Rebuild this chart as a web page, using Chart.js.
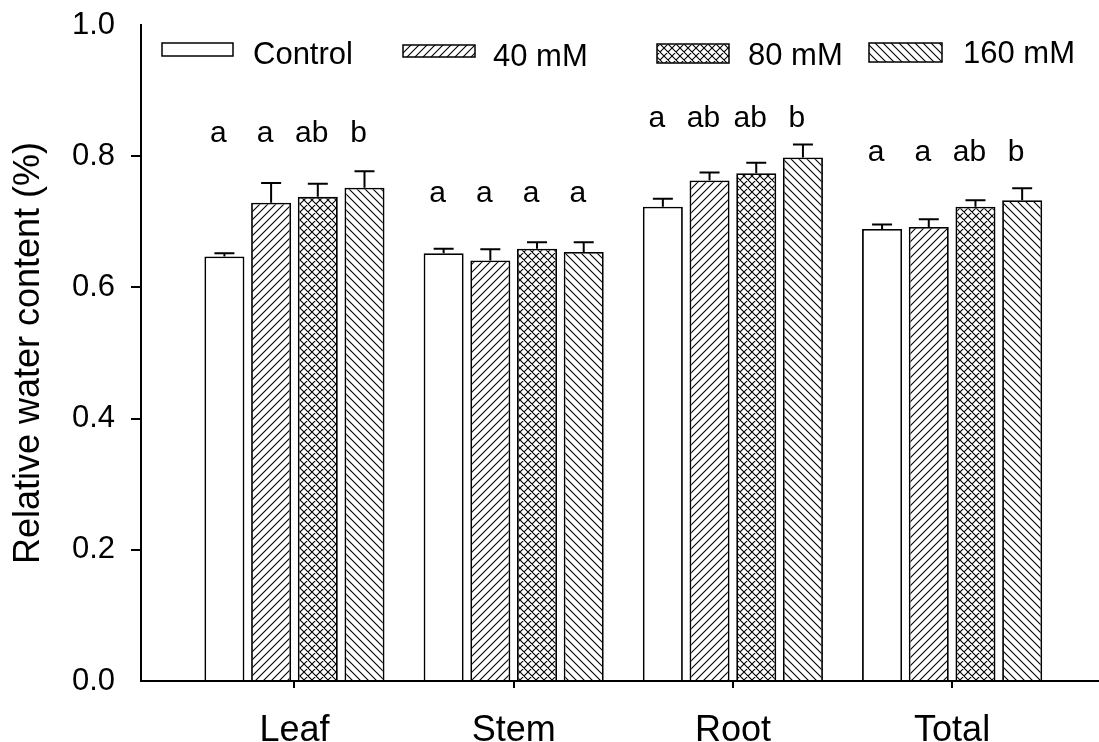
<!DOCTYPE html>
<html>
<head>
<meta charset="utf-8">
<script src="https://cdn.jsdelivr.net/npm/chart.js@4.4.0/dist/chart.umd.min.js"></script>
<style>
    body { margin: 0; background: #fff; }
</style>
</head>
<body>
<canvas id="chart" width="1099" height="742"></canvas>
<script>
const categories = ['Leaf', 'Stem', 'Root', 'Total']
const treatments = ['Control', '40 mM', '80 mM', '160 mM']

// mean relative water content per organ
const control_rwc = [0.647, 0.652, 0.723, 0.689]
const mm40_rwc = [0.729, 0.641, 0.763, 0.692]
const mm80_rwc = [0.738, 0.659, 0.774, 0.723]
const mm160_rwc = [0.752, 0.654, 0.798, 0.733]

// standard error (upper bar only)
const control_se = [0.005, 0.007, 0.012, 0.007]
const mm40_se = [0.030, 0.017, 0.012, 0.012]
const mm80_se = [0.020, 0.010, 0.016, 0.010]
const mm160_se = [0.025, 0.015, 0.020, 0.018]

// significance letters and the level they sit at
const control_letters = ['a', 'a', 'a', 'a']
const mm40_letters = ['a', 'a', 'ab', 'a']
const mm80_letters = ['ab', 'a', 'ab', 'ab']
const mm160_letters = ['b', 'a', 'b', 'b']
const letter_level = [0.822, 0.730, 0.845, 0.792]

const y_ticks = [0, 0.2, 0.4, 0.6, 0.8, 1.0]

const FONT = "'Liberation Sans', Arial, Helvetica, sans-serif"
Chart.defaults.font.family = FONT
Chart.defaults.color = '#000'

function make_pattern(kind) {
    const size = 8
    const c = document.createElement('canvas')
    c.width = size
    c.height = size
    const p = c.getContext('2d')
    p.fillStyle = '#fff'
    p.fillRect(0, 0, size, size)
    if (kind == 'none') return p.createPattern(c, 'repeat')
    p.strokeStyle = '#000'
    p.lineWidth = 1.1
    p.beginPath()
    if (kind == 'fwd' || kind == 'cross') {
        p.moveTo(-1, size + 1); p.lineTo(size + 1, -1)
        p.moveTo(-1, 1); p.lineTo(1, -1)
        p.moveTo(size - 1, size + 1); p.lineTo(size + 1, size - 1)
    }
    if (kind == 'back' || kind == 'cross') {
        p.moveTo(-1, -1); p.lineTo(size + 1, size + 1)
        p.moveTo(size - 1, -1); p.lineTo(size + 1, 1)
        p.moveTo(-1, size - 1); p.lineTo(1, size + 1)
    }
    p.stroke()
    return p.createPattern(c, 'repeat')
}

const canvas = document.getElementById('chart')

function make_dataset(label, values, errs, letters, kind) {
    return {
        label: label,
        data: values.map((v, i) => ({x: i + 1, y: v})),
        err: errs,
        letters: letters,
        backgroundColor: make_pattern(kind),
        borderColor: '#000',
        borderWidth: 1.8,
        categoryPercentage: 0.852,
        barPercentage: 0.857
    }
}

const datasets = [
    make_dataset(treatments[0], control_rwc, control_se, control_letters, 'none'),
    make_dataset(treatments[1], mm40_rwc, mm40_se, mm40_letters, 'fwd'),
    make_dataset(treatments[2], mm80_rwc, mm80_se, mm80_letters, 'cross'),
    make_dataset(treatments[3], mm160_rwc, mm160_se, mm160_letters, 'back')
]

// error bars + letters above each bar
const bar_extras = {
    id: 'bar_extras',
    afterDatasetsDraw(chart) {
        const ctx = chart.ctx
        const y = chart.scales.y
        ctx.save()
        ctx.strokeStyle = '#000'
        ctx.lineWidth = 2
        ctx.fillStyle = '#000'
        ctx.font = '30px ' + FONT
        ctx.textAlign = 'center'
        ctx.textBaseline = 'alphabetic'
        chart.data.datasets.forEach((ds, i) => {
            const meta = chart.getDatasetMeta(i)
            meta.data.forEach((bar, j) => {
                const top = y.getPixelForValue(ds.data[j].y + ds.err[j])
                ctx.beginPath()
                ctx.moveTo(bar.x, bar.y)
                ctx.lineTo(bar.x, top)
                ctx.moveTo(bar.x - 10, top)
                ctx.lineTo(bar.x + 10, top)
                ctx.stroke()
                ctx.fillText(ds.letters[j], bar.x - 6, y.getPixelForValue(letter_level[j]))
            })
        })
        ctx.restore()
    }
}

// legend laid out like the original figure
const legend_boxes = [
    {box: [162, 43, 71, 13], text: [253, 64]},
    {box: [403, 45, 72, 12], text: [493, 66]},
    {box: [657, 44, 72, 19], text: [748, 65]},
    {box: [869, 43, 73, 19], text: [963, 63]}
]
const free_legend = {
    id: 'free_legend',
    afterDraw(chart) {
        const ctx = chart.ctx
        ctx.save()
        ctx.font = '31px ' + FONT
        ctx.textAlign = 'left'
        ctx.textBaseline = 'alphabetic'
        chart.data.datasets.forEach((ds, i) => {
            const item = legend_boxes[i]
            const b = item.box
            ctx.fillStyle = ds.backgroundColor
            ctx.fillRect(b[0], b[1], b[2], b[3])
            ctx.strokeStyle = '#000'
            ctx.lineWidth = 1.5
            ctx.strokeRect(b[0], b[1], b[2], b[3])
            ctx.fillStyle = '#000'
            ctx.fillText(ds.label, item.text[0], item.text[1])
        })
        ctx.restore()
    }
}

const config = {
    type: 'bar',
    data: { datasets: datasets },
    options: {
        responsive: false,
        animation: false,
        layout: { padding: { top: 25, right: 0, bottom: 0, left: 0 } },
        plugins: {
            legend: { display: false },
            tooltip: { enabled: false }
        },
        scales: {
            x: {
                type: 'linear',
                offset: false,
                min: 0.3,
                max: 4.67,
                afterBuildTicks: (scale) => { scale.ticks = categories.map((c, i) => ({value: i + 1})) },
                afterFit: (scale) => {
                    scale.height = 61
                    scale.paddingLeft = 0
                    scale.paddingRight = 0
                },
                ticks: {
                    callback: (v) => categories[v - 1],
                    font: { size: 36 },
                    color: '#000',
                    padding: 21,
                    maxRotation: 0,
                    autoSkip: false
                },
                grid: { offset: false, drawOnChartArea: false, tickLength: 7, color: '#000', lineWidth: 2 },
                border: { display: true, color: '#000', width: 2 }
            },
            y: {
                min: 0,
                max: 1,
                afterBuildTicks: (scale) => { scale.ticks = y_ticks.map(v => ({value: v})) },
                afterFit: (scale) => {
                    scale.width = 141
                    scale.paddingTop = 0
                    scale.paddingBottom = 0
                },
                ticks: {
                    callback: (v) => v.toFixed(1),
                    font: { size: 31 },
                    color: '#000',
                    padding: 16
                },
                grid: {
                    drawOnChartArea: false,
                    tickLength: 10,
                    lineWidth: 2,
                    color: (c) => (c.tick && (c.tick.value === 0 || c.tick.value === 1)) ? 'rgba(0,0,0,0)' : '#000'
                },
                border: { display: true, color: '#000', width: 2 },
                title: {
                    display: true,
                    text: 'Relative water content (%)',
                    font: { size: 36 },
                    color: '#000',
                    padding: { top: 7, bottom: 0 }
                }
            }
        }
    },
    plugins: [bar_extras, free_legend]
}

new Chart(canvas, config)
</script>
</body>
</html>
